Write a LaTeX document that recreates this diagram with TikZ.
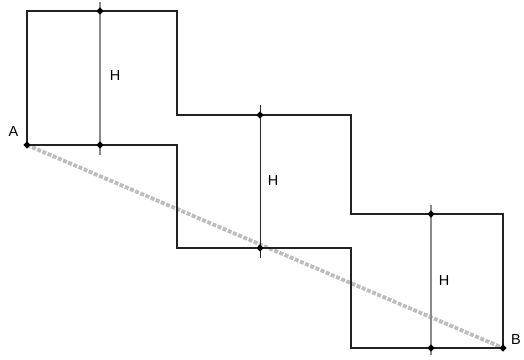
\documentclass[tikz,border=0pt]{standalone}
\usepackage{fontspec}
\setmainfont{Liberation Sans}
\definecolor{wallc}{HTML}{222222}
\definecolor{dashc}{HTML}{BDBDBD}
\definecolor{hgray}{HTML}{8A8A8A}
\begin{document}
\begin{tikzpicture}[x=1pt,y=-1pt,
  wall/.style={draw=wallc,line width=2.8pt,line join=miter},
  hline/.style={draw=hgray,line width=1.1pt},
  hlinedark/.style={draw=black!85,line width=1pt},
  diag/.style={draw=dashc,line width=3.8pt,dash pattern=on 4pt off 1.6pt},
  lbl/.style={font=\fontsize{14.5}{14.5}\selectfont,inner sep=0pt},
  tick/.style={fill=black,draw=none,minimum size=5pt,inner sep=0pt,shape=rectangle,rotate=45}]
\useasboundingbox (0,0) rectangle (524,359);
% corners
\coordinate (A) at (27,145);
\coordinate (B) at (503,348);
\coordinate (t1) at (27,11);
\coordinate (t2) at (177,11);
\coordinate (t3) at (177,115);
\coordinate (t4) at (351,115);
\coordinate (t5) at (351,214);
\coordinate (t6) at (503,214);
\coordinate (b2) at (177,145);
\coordinate (b3) at (177,248);
\coordinate (b4) at (351,248);
\coordinate (b5) at (351,348);
% diagonal
\draw[diag] (A) -- (B);
% outline
\draw[wall] (A) -- (t1) -- (t2) -- (t3) -- (t4) -- (t5) -- (t6) -- (B) -- (b5) -- (b4) -- (b3) -- (b2) -- cycle;
% height lines
\coordinate (h1a) at (100,2);   \coordinate (h1b) at (100,155);
\coordinate (h2a) at (260,105); \coordinate (h2b) at (260,258);
\coordinate (h3a) at (431,205); \coordinate (h3b) at (431,355);
\draw[hline] (h1a) -- (h1b);
\draw[hlinedark] (h2a) -- (h2b);
\draw[hline] (h3a) -- (h3b);
% ticks
\node[tick] (k1) at (100,11) {};
\node[tick] (k2) at (100,145) {};
\node[tick] (k3) at (260,115) {};
\node[tick] (k4) at (260,248) {};
\node[tick] (k5) at (431,214) {};
\node[tick] (k6) at (431,348) {};
\node[tick] (kA) at (A) {};
\node[tick] (kB) at (B) {};
% labels
\node[lbl] (H1) at (115,76) {H};
\node[lbl] (H2) at (273,181) {H};
\node[lbl] (H3) at (444,281) {H};
\node[lbl] (LA) at (13.5,132) {A};
\node[lbl] (LB) at (516,340) {B};
\end{tikzpicture}
\end{document}
